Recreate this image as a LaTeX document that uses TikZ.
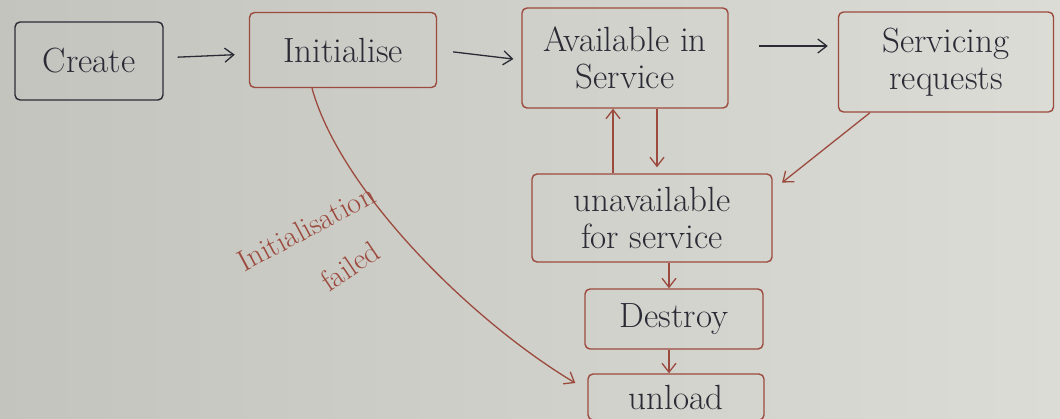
\documentclass[tikz,border=0pt]{standalone}
\usetikzlibrary{arrows.meta}
\definecolor{paperL}{HTML}{C3C4BE}
\definecolor{paperR}{HTML}{DCDCD7}
\definecolor{ink}{HTML}{2B2B36}
\definecolor{redink}{HTML}{9C4A3E}
\begin{document}
\begin{tikzpicture}[x=1pt,y=-1pt,
  box/.style={draw=redink, line width=1.4pt, rounded corners=5pt, text=ink,
    font=\fontsize{35}{37}\selectfont, align=center, inner sep=0pt},
  lbltext/.style={text=redink, font=\fontsize{30}{32}\selectfont, inner sep=0pt},
  arr/.style={draw=redink, line width=1.3pt, -{Straight Barb[length=9pt,width=14pt]}},
]
\clip (0,0) rectangle (1060,418);
\shade[left color=paperL, right color=paperR] (0,0) rectangle (1060,418);

\node[box, draw=ink, minimum width=148pt, minimum height=78pt] (create) at (89,61) {Create};
\node[box, minimum width=187pt, minimum height=75pt] (init) at (343,50) {Initialise};
\node[box, minimum width=206pt, minimum height=100pt] (avail) at (625,58) {Available in\\Service};
\node[box, minimum width=215pt, minimum height=100pt] (serv) at (946,62) {Servicing\\requests};
\node[box, minimum width=240pt, minimum height=88pt] (unavail) at (652,218) {unavailable\\for service};
\node[box, minimum width=178pt, minimum height=60pt] (destroy) at (674,319) {Destroy};
\node[box, minimum width=176pt, minimum height=46pt] (unload) at (676,397) {unload};

\node[lbltext, rotate=28] (lbl1) at (306,228) {Initialisation};
\node[lbltext, rotate=34] (lbl2) at (350,266) {failed};

\coordinate (xu) at (613,0);
\coordinate (xdn) at (657,0);
\coordinate (xd) at (669,0);

\draw[arr, draw=ink, shorten <=14pt, shorten >=14pt] (create) -- (init);
\draw[arr, draw=ink, shorten <=16pt, shorten >=8pt] (init.east) -- ([yshift=-2pt]avail.west);
\draw[arr, draw=ink, shorten <=30pt, shorten >=10pt] ([yshift=12pt]avail.east) -- ([yshift=16pt]serv.west);
\draw[arr] (unavail.north -| xu) -- (avail.south -| xu);
\draw[arr] (avail.south -| xdn) -- ([yshift=6pt]unavail.north -| xdn);
\draw[arr, shorten >=12pt] ([xshift=-76pt]serv.south) -- ([yshift=28pt]unavail.east);
\draw[arr] (unavail.south -| xd) -- (destroy.north -| xd);
\draw[arr] (destroy.south -| xd) -- (unload.north -| xd);
\draw[arr] ([xshift=-31pt]init.south) .. controls (340,190) and (470,320) .. ([xshift=-12pt,yshift=14pt]unload.west);
\end{tikzpicture}
\end{document}
